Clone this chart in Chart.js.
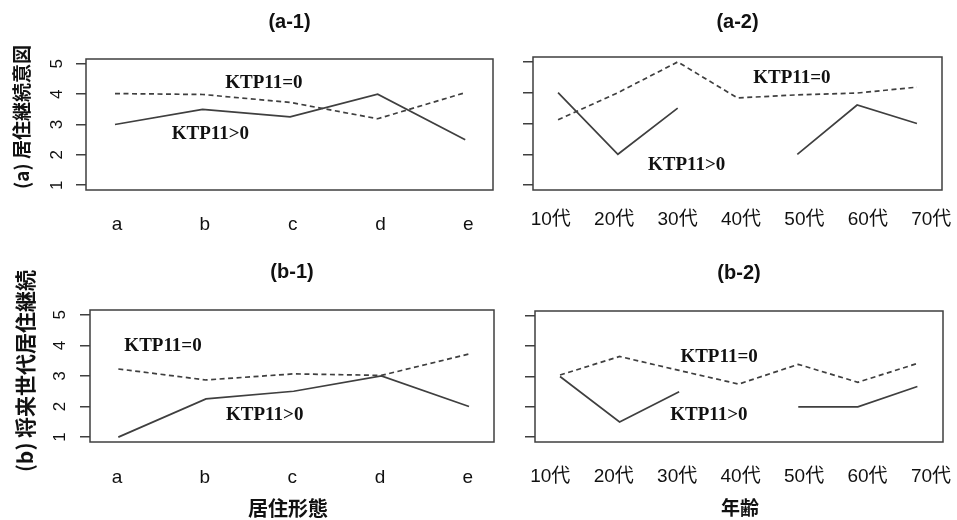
<!DOCTYPE html>
<html>
<head>
<meta charset="utf-8">
<script src="https://cdn.jsdelivr.net/npm/chart.js@4.4.1/dist/chart.umd.min.js"></script>
<style>
  html, body { margin: 0; padding: 0; background: #fff; }
  #wrap { position: relative; width: 957px; height: 520px; }
  #wrap canvas { position: absolute; left: 0; top: 0; }
</style>
</head>
<body>
<div id="wrap">
  <canvas id="a1" width="957" height="520"></canvas>
  <canvas id="a2" width="957" height="520"></canvas>
  <canvas id="b1" width="957" height="520"></canvas>
  <canvas id="b2" width="957" height="520"></canvas>
</div>
<script>
// categories
const housingTypes = ["a", "b", "c", "d", "e"];
const ageGroups = ["10代", "20代", "30代", "40代", "50代", "60代", "70代"];
const yTicks = [1, 2, 3, 4, 5];

// series (KTP11=0 dashed, KTP11>0 solid)
const a1Zero = [4.02, 3.99, 3.73, 3.19, 4.05];
const a1Pos = [3.0, 3.5, 3.25, 4.0, 2.5];
const a2Zero = [3.12, 4.0, 5.0, 3.83, 3.93, 3.99, 4.18];
const a2Pos = [4.0, 2.0, 3.5, null, 2.0, 3.6, 3.0];
const b1Zero = [3.23, 2.87, 3.07, 3.02, 3.72];
const b1Pos = [1.0, 2.25, 2.5, 3.0, 2.0];
const b2Zero = [3.05, 3.66, 3.2, 2.75, 3.4, 2.81, 3.43];
const b2Pos = [3.0, 1.5, 2.5, null, 2.0, 2.0, 2.67];

// texts
const seriesNames = ["KTP11=0", "KTP11>0"];
const rowTitles = ["(a) 居住継続意図", "(b) 将来世代居住継続"];
const colTitles = ["居住形態", "年齢"];

const ink = "#111";
const lineGrey = "#3f3f3f";
const sans = "'Liberation Sans', Arial, 'Noto Sans CJK JP', sans-serif";
const cjk = "'Noto Sans CJK JP', sans-serif";
const serif = "'Liberation Serif', 'Times New Roman', serif";
const labelBand = 60; // room under each plot for the category labels

const panels = [
  { id: "a1", title: "(a-1)", cats: housingTypes, zero: a1Zero, pos: a1Pos,
    box: [86, 59, 493, 190], dataX: [0.669, 5.317], labelX: [0.647, 5.28], labelGap: 23,
    titleY: 22, noteZero: [2.70, 4.41], notePos: [2.09, 2.72], yTickX: 57,
    row: { text: rowTitles[0], x: 22, y: 117, size: 19 } },
  { id: "a2", title: "(a-2)", cats: ageGroups, zero: a2Zero, pos: a2Pos,
    box: [533, 57, 942, 190], dataX: [0.581, 7.419], labelX: [0.72, 7.17], labelGap: 18,
    titleY: 22, noteZero: [4.91, 4.51], notePos: [3.15, 1.71] },
  { id: "b1", title: "(b-1)", cats: housingTypes, zero: b1Zero, pos: b1Pos,
    box: [90, 310, 494, 442], dataX: [0.677, 5.285], labelX: [0.692, 5.30], labelGap: 24,
    titleY: 272, noteZero: [1.51, 4.04], notePos: [2.67, 1.75], yTickX: 60,
    row: { text: rowTitles[1], x: 25, y: 371, size: 21 },
    col: { text: colTitles[0], x: 288, y: 508, size: 20 } },
  { id: "b2", title: "(b-2)", cats: ageGroups, zero: b2Zero, pos: b2Pos,
    box: [535, 311, 943, 442], dataX: [0.58, 7.43], labelX: [0.759, 7.19], labelGap: 23,
    titleY: 273, noteZero: [3.67, 3.70], notePos: [3.50, 1.77],
    col: { text: colTitles[1], x: 740, y: 508, size: 19 } },
];

function toPoints(values) {
  return values.map((v, i) => ({ x: i + 1, y: v }));
}

// box, titles, in-plot labels and rotated y tick labels (R style)
function decor(p) {
  return {
    id: "decor",
    afterDraw(chart) {
      const { ctx, chartArea: ca, scales } = chart;
      ctx.save();
      ctx.strokeStyle = lineGrey;
      ctx.lineWidth = 1.5;
      ctx.strokeRect(ca.left, ca.top, ca.right - ca.left, ca.bottom - ca.top);

      ctx.fillStyle = ink;
      ctx.textAlign = "center";
      ctx.textBaseline = "middle";
      ctx.font = "bold 20px " + sans;
      ctx.fillText(p.title, (ca.left + ca.right) / 2, p.titleY);

      ctx.font = "bold 19px " + serif;
      ctx.textBaseline = "alphabetic";
      [[seriesNames[0], p.noteZero], [seriesNames[1], p.notePos]].forEach(([t, at]) => {
        ctx.fillText(t, scales.x.getPixelForValue(at[0]), scales.y.getPixelForValue(at[1]) + 6.3);
      });

      ctx.textBaseline = "middle";
      if (p.yTickX) {
        ctx.font = "17px " + sans;
        yTicks.forEach(v => {
          ctx.save();
          ctx.translate(p.yTickX, scales.y.getPixelForValue(v));
          ctx.rotate(-Math.PI / 2);
          ctx.fillText(String(v), 0, 0);
          ctx.restore();
        });
      }
      if (p.row) {
        ctx.save();
        ctx.font = "bold " + p.row.size + "px " + cjk;
        ctx.translate(p.row.x, p.row.y);
        ctx.rotate(-Math.PI / 2);
        ctx.fillText(p.row.text, 0, 0);
        ctx.restore();
      }
      if (p.col) {
        ctx.font = "bold " + p.col.size + "px " + cjk;
        ctx.fillText(p.col.text, p.col.x, p.col.y);
      }
      ctx.restore();
    }
  };
}

function makePanel(p) {
  const [left, top, right, bottom] = p.box;
  return new Chart(document.getElementById(p.id), {
    type: "line",
    data: {
      datasets: [
        { label: seriesNames[0], data: toPoints(p.zero), xAxisID: "x", yAxisID: "y",
          borderColor: lineGrey, borderWidth: 1.7, borderDash: [5, 3.5], pointRadius: 0, tension: 0 },
        { label: seriesNames[1], data: toPoints(p.pos), xAxisID: "x", yAxisID: "y",
          borderColor: lineGrey, borderWidth: 1.7, pointRadius: 0, tension: 0 },
      ],
    },
    options: {
      responsive: false,
      animation: false,
      events: [],
      layout: { padding: { left, top, right: 957 - right, bottom: 520 - bottom - labelBand } },
      plugins: { legend: { display: false }, title: { display: false }, tooltip: { enabled: false } },
      scales: {
        x: { type: "linear", min: p.dataX[0], max: p.dataX[1], display: false },
        xl: {
          type: "linear", axis: "x", position: "bottom", min: p.labelX[0], max: p.labelX[1],
          afterBuildTicks: s => { s.ticks = p.cats.map((_, i) => ({ value: i + 1 })); },
          ticks: { callback: v => p.cats[v - 1], color: ink, font: { family: sans, size: 19 },
                   padding: 0, autoSkip: false, maxRotation: 0 },
          // invisible tick marks just push the labels down (R draws no x ticks here)
          grid: { drawOnChartArea: false, tickLength: p.labelGap, color: "rgba(0,0,0,0)" },
          border: { display: false },
          afterFit: s => { s.height = labelBand; },
        },
        y: {
          type: "linear", min: 0.84, max: 5.16,
          afterBuildTicks: s => { s.ticks = yTicks.map(v => ({ value: v })); },
          ticks: { display: false },
          grid: { drawOnChartArea: false, tickLength: 10, color: lineGrey, lineWidth: 1.5 },
          border: { display: false },
          afterFit: s => { s.width = 0; },
        },
      },
    },
    plugins: [decor(p)],
  });
}

panels.forEach(makePanel);
</script>
</body>
</html>
